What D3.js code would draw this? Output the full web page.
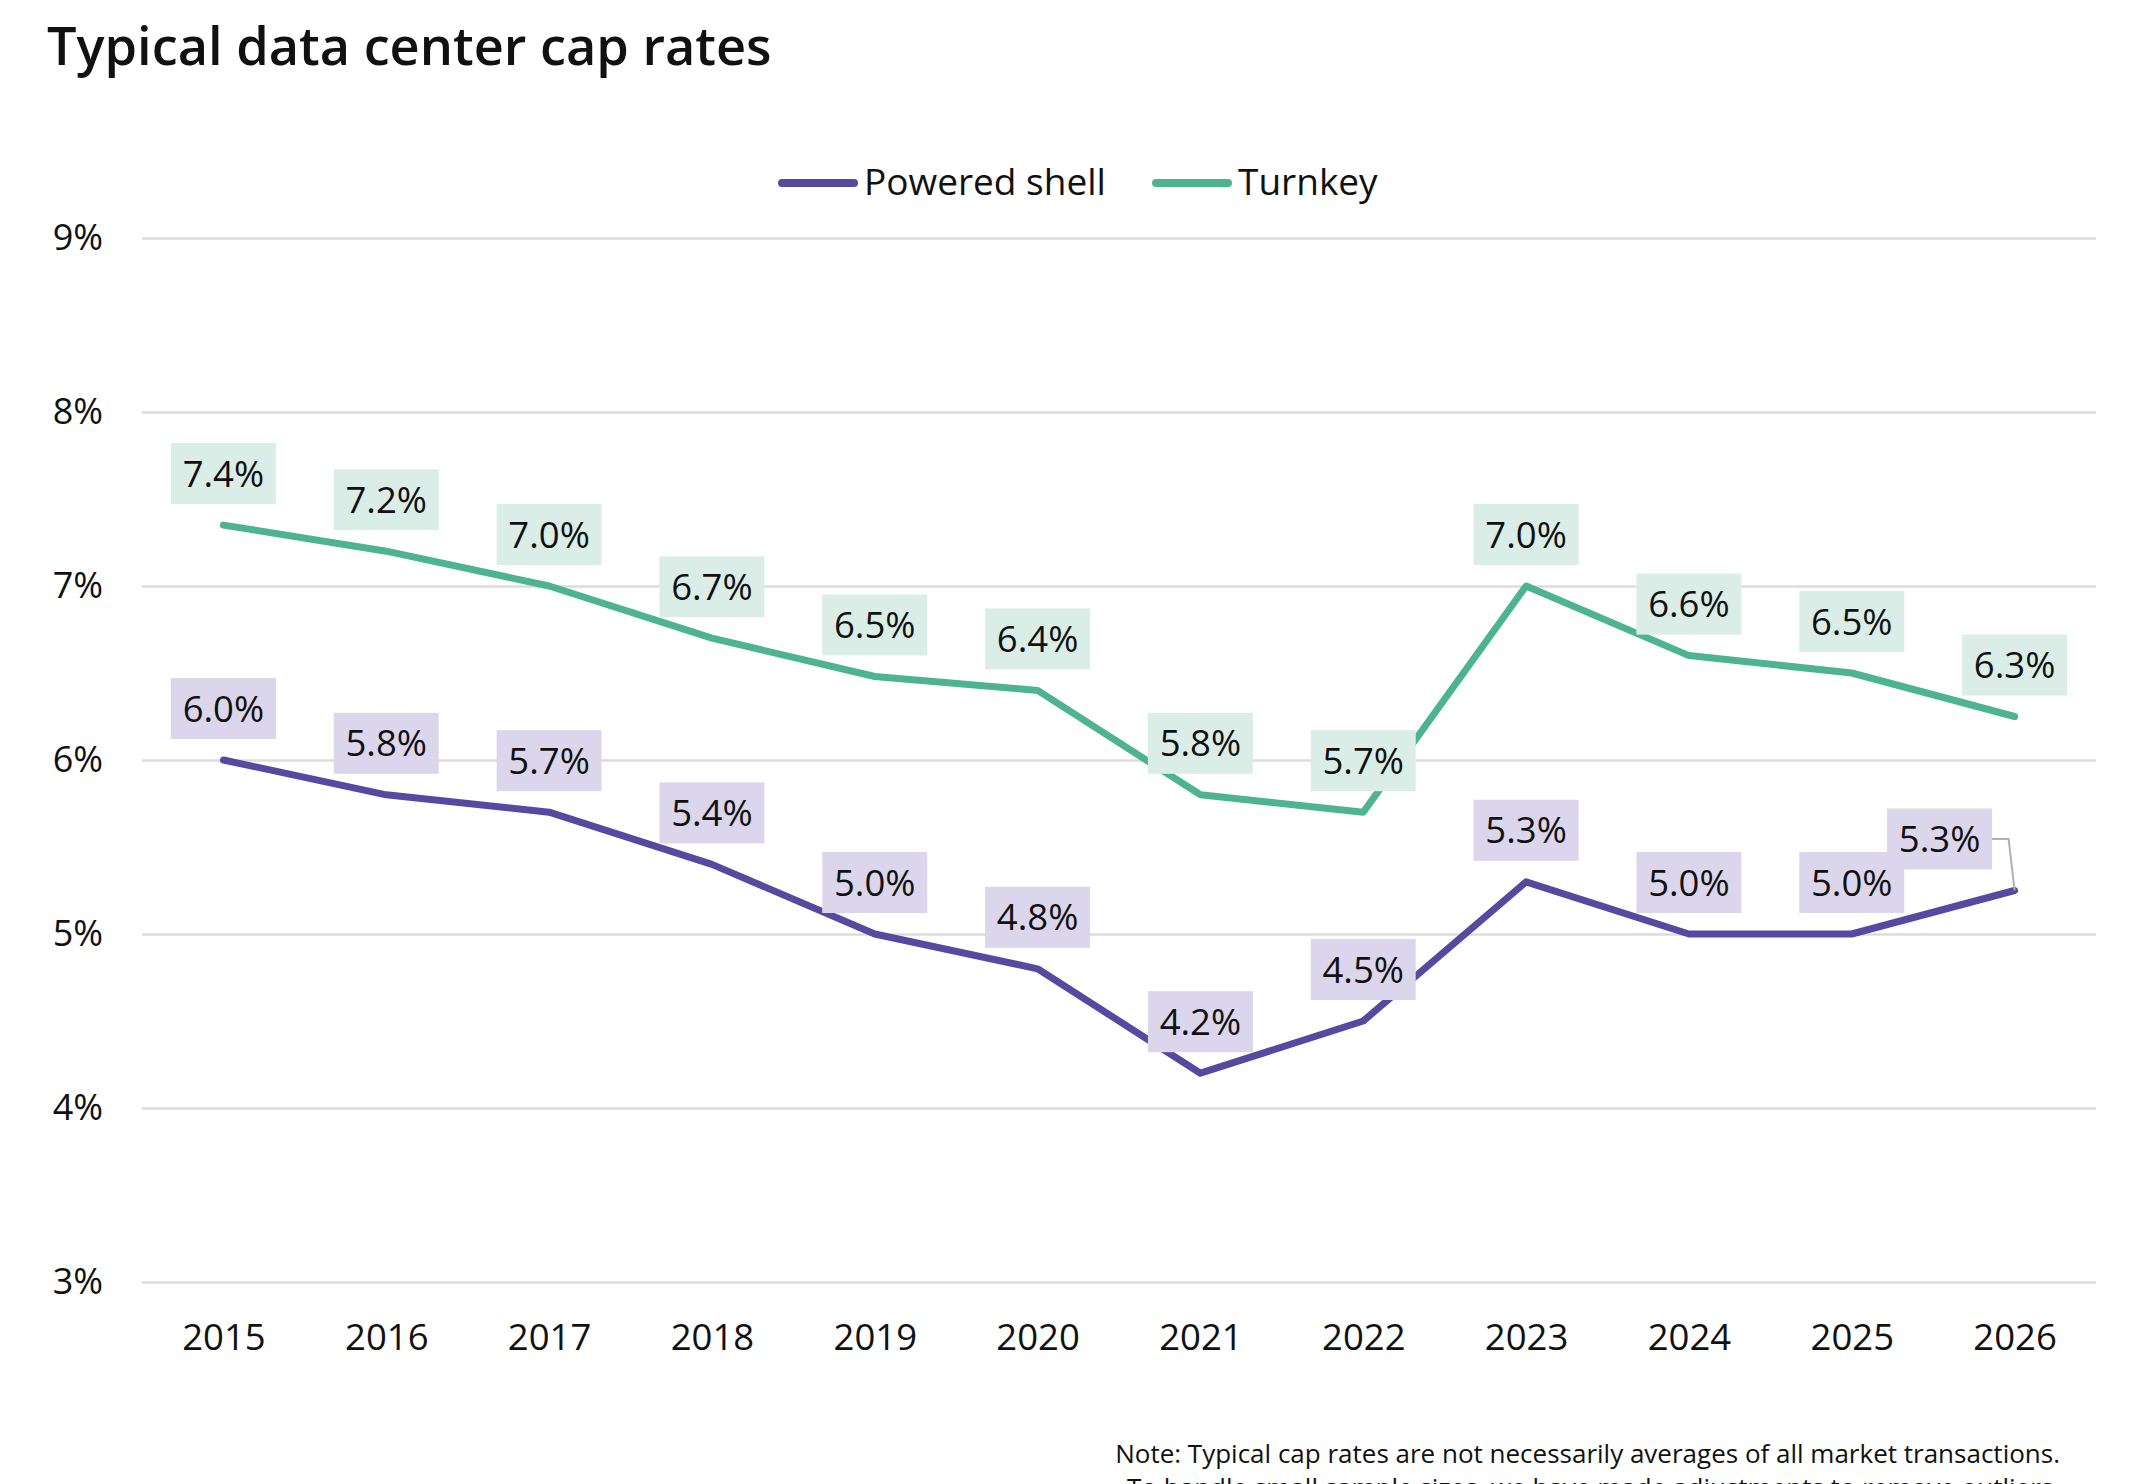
<!DOCTYPE html>
<html>
<head>
<meta charset="utf-8">
<script src="https://cdn.jsdelivr.net/npm/d3@7"></script>
<style>
  body { margin: 0; background: #fff; }
  svg { display: block; font-family: "Open Sans", "Noto Sans", sans-serif; }
</style>
</head>
<body>
<div id="chart"></div>
<script>
// data
var years = [2015, 2016, 2017, 2018, 2019, 2020, 2021, 2022, 2023, 2024, 2025, 2026];
var poweredShell = [6.0, 5.8, 5.7, 5.4, 5.0, 4.8, 4.2, 4.5, 5.3, 5.0, 5.0, 5.25];
var turnkey = [7.35, 7.2, 7.0, 6.7, 6.48, 6.4, 5.8, 5.7, 7.0, 6.6, 6.5, 6.25];
var yTicks = [3, 4, 5, 6, 7, 8, 9];
var seriesNames = ["Powered shell", "Turnkey"];
var noteLines = [
  "Note: Typical cap rates are not necessarily averages of all market transactions.",
  "To handle small sample sizes, we have made adjustments to remove outliers."
];

var W = 2145, H = 1484;
var colors = { "Powered shell": "#5649a0", "Turnkey": "#4db48f" };
var boxColors = { "Powered shell": "#dbd6ec", "Turnkey": "#daeee7" };

var svg = d3.select("#chart").append("svg")
  .attr("width", W)
  .attr("height", H);

var x = d3.scalePoint().domain(years).range([142, 2096]).padding(0.5);
var y = d3.scaleLinear().domain([3, 9]).range([1282, 238]);

// title
svg.append("text")
  .attr("x", 47).attr("y", 65)
  .attr("font-size", 52.3).attr("font-weight", 600)
  .attr("fill", "#111")
  .text("Typical data center cap rates");

// y grid + labels
var yAxis = svg.append("g")
  .attr("transform", "translate(142,0)")
  .call(d3.axisLeft(y).tickValues(yTicks).tickSize(-(2096 - 142)).tickPadding(39)
    .tickFormat(function(d){ return d + "%"; }));
yAxis.select(".domain").remove();
yAxis.selectAll("line").attr("stroke", "#dcdcdc").attr("stroke-width", 2.5);
yAxis.selectAll("text").attr("font-size", 36).attr("fill", "#111")
  .attr("font-family", "Open Sans");

// x labels
var xAxis = svg.append("g")
  .attr("transform", "translate(0,1282)")
  .call(d3.axisBottom(x).tickSize(0).tickPadding(42).tickFormat(d3.format("d")));
xAxis.select(".domain").remove();
xAxis.selectAll("text").attr("font-size", 36.5).attr("fill", "#111")
  .attr("font-family", "Open Sans");

var series = [
  { name: "Powered shell", values: poweredShell },
  { name: "Turnkey", values: turnkey }
];

var line = d3.line()
  .x(function(d, i){ return x(years[i]); })
  .y(function(d){ return y(d); });

svg.selectAll("path.series")
  .data(series)
  .enter().append("path")
  .attr("class", "series")
  .attr("d", function(s){ return line(s.values); })
  .attr("fill", "none")
  .attr("stroke", function(s){ return colors[s.name]; })
  .attr("stroke-width", 7)
  .attr("stroke-linejoin", "round")
  .attr("stroke-linecap", "round");

// data labels
function fmt(v) { return (Math.round(v * 10) / 10).toFixed(1) + "%"; }
var boxW = 105, boxH = 61, gap = 21;
// last powered shell label is pushed left with a leader line
var shiftX = { "Powered shell": { 2026: -75 } };

series.forEach(function(s) {
  var g = svg.append("g");
  s.values.forEach(function(v, i) {
    var px = x(years[i]), py = y(v);
    var dx = (shiftX[s.name] && shiftX[s.name][years[i]]) || 0;
    var cx = px + dx;
    var top = py - gap - boxH;
    if (dx !== 0) {
      g.append("path")
        .attr("d", "M" + (cx + boxW / 2) + "," + (top + boxH / 2) +
                   "H" + (px - 6) + "L" + px + "," + py)
        .attr("fill", "none").attr("stroke", "#b0b0b0").attr("stroke-width", 2);
    }
    g.append("rect")
      .attr("x", cx - boxW / 2).attr("y", top)
      .attr("width", boxW).attr("height", boxH)
      .attr("fill", boxColors[s.name]);
    g.append("text")
      .attr("x", cx).attr("y", top + boxH / 2)
      .attr("dy", "0.36em")
      .attr("text-anchor", "middle")
      .attr("font-size", 36.5).attr("fill", "#111")
      .text(fmt(v));
  });
});

// legend
var legendX = [778, 1152];
var leg = svg.selectAll("g.legend")
  .data(seriesNames)
  .enter().append("g")
  .attr("class", "legend")
  .attr("transform", function(d, i){ return "translate(" + legendX[i] + ",183)"; });
leg.append("line")
  .attr("x1", 4).attr("x2", 76)
  .attr("stroke", function(d){ return colors[d]; })
  .attr("stroke-width", 8).attr("stroke-linecap", "round");
leg.append("text")
  .attr("x", 86).attr("y", 12)
  .attr("font-size", 37).attr("fill", "#111")
  .text(function(d){ return d; });

// note (second line runs off the bottom edge, as in the source)
svg.selectAll("text.note")
  .data(noteLines)
  .enter().append("text")
  .attr("class", "note")
  .attr("x", 2060)
  .attr("y", function(d, i){ return 1463 + i * 34; })
  .attr("text-anchor", "end")
  .attr("font-size", 26).attr("fill", "#111")
  .text(function(d){ return d; });
</script>
</body>
</html>
